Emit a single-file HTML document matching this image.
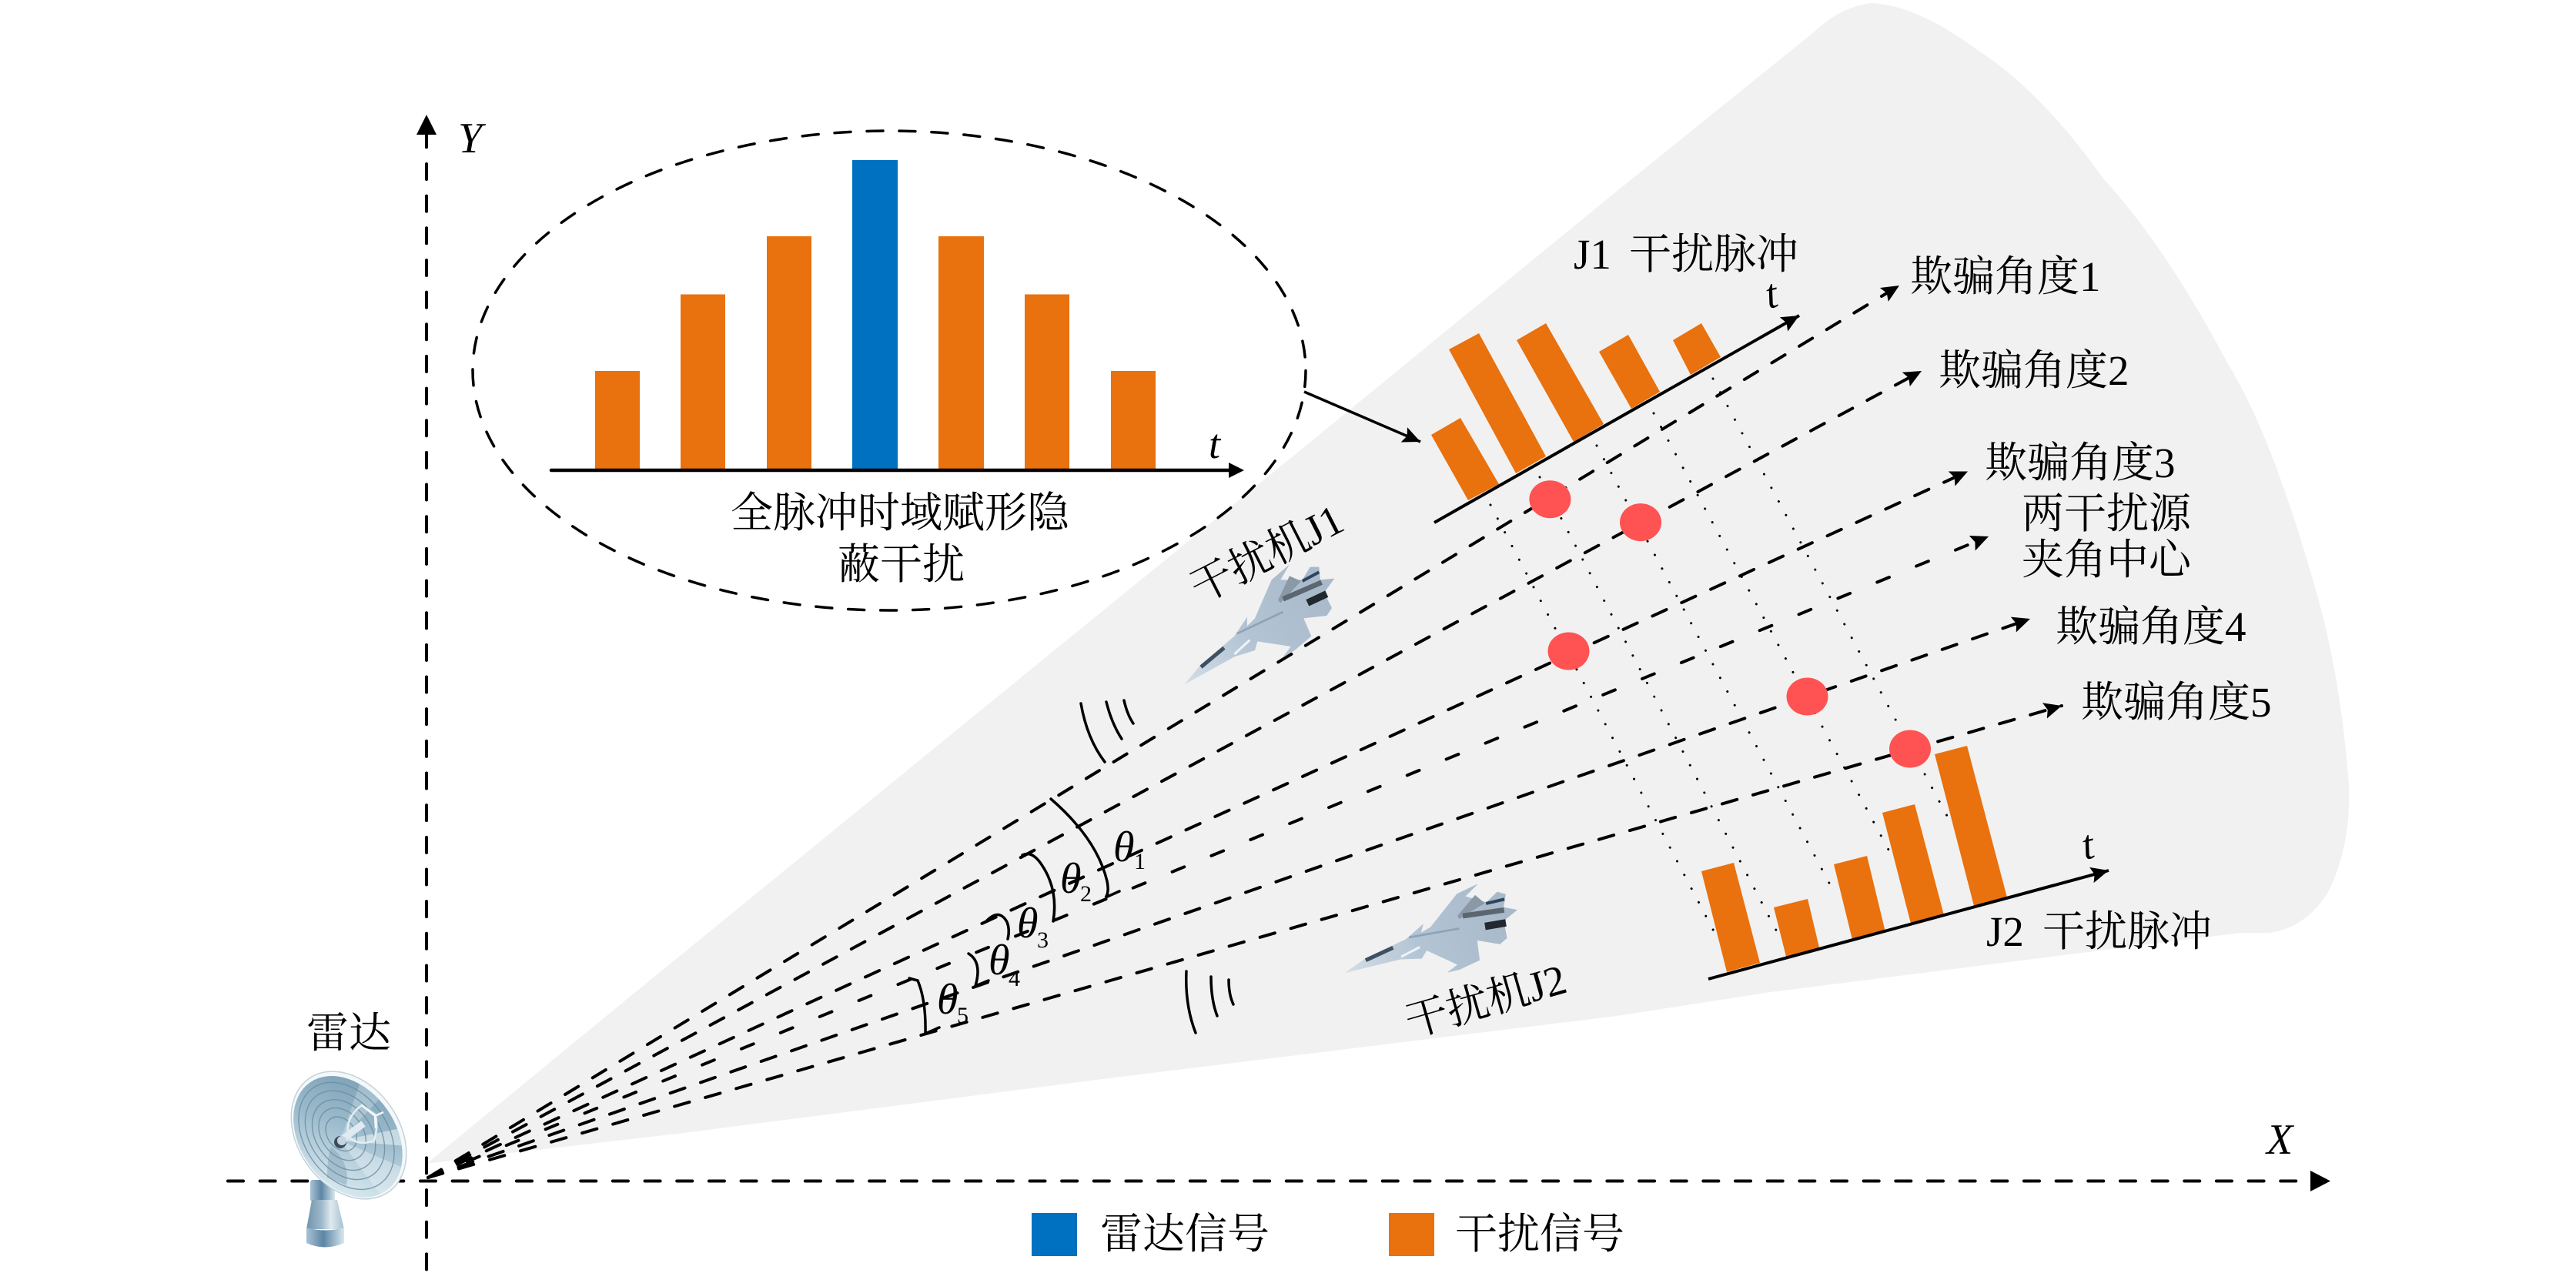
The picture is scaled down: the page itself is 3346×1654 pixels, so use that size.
<!DOCTYPE html>
<html><head><meta charset="utf-8"><style>
html,body{margin:0;padding:0;background:#fff}
svg{display:block}
text{font-family:"Liberation Serif","Noto Serif CJK SC",serif;font-size:55px;fill:#000}
.i{font-style:italic}
</style></head><body>
<svg width="3346" height="1654" viewBox="0 0 3346 1654" xmlns="http://www.w3.org/2000/svg">
<defs>
<marker id="a" markerUnits="userSpaceOnUse" markerWidth="30" markerHeight="26" refX="27" refY="13" orient="auto"><path d="M27,13L4,2.5L8,13L4,23.5Z" fill="#000"/></marker>
<linearGradient id="dish" x1="0" y1="0" x2="1" y2="1"><stop offset="0" stop-color="#7399b0"/><stop offset=".45" stop-color="#9dbccd"/><stop offset=".8" stop-color="#cfe2ea"/><stop offset="1" stop-color="#eaf3f6"/></linearGradient>
<linearGradient id="cyl" x1="0" y1="0" x2="1" y2="0"><stop offset="0" stop-color="#a9c2d3"/><stop offset=".45" stop-color="#5d86a5"/><stop offset=".8" stop-color="#a9c3d3"/><stop offset="1" stop-color="#dbe7ee"/></linearGradient>
<linearGradient id="cone" x1="0" y1="0" x2="1" y2="0"><stop offset="0" stop-color="#6f93ac"/><stop offset=".4" stop-color="#9db8c9"/><stop offset=".65" stop-color="#dfe9ef"/><stop offset="1" stop-color="#a6bfcf"/></linearGradient>
<linearGradient id="jetg" gradientUnits="userSpaceOnUse" x1="55" y1="508" x2="600" y2="100"><stop offset="0" stop-color="#d3dde6"/><stop offset=".45" stop-color="#b3c4d4"/><stop offset="1" stop-color="#a8b9ca"/></linearGradient>
<clipPath id="dc"><ellipse cx="454" cy="1477" rx="86" ry="62" transform="rotate(55 453 1475)"/></clipPath>
<g id="jet">
<path d="M55,508L120,430L250,320L300,245L300,280L330,250L395,100L465,40L430,100L515,100L545,50L580,50L585,100L640,95L600,150L630,210L610,240L520,250L550,320L485,375L440,400L470,360L340,340L330,375L250,400Z" fill="url(#jetg)"/>
<path d="M420,180L465,85L510,105L430,190Z" fill="#8b98a6"/>
<path d="M260,310L440,225" stroke="#8fa3b8" stroke-width="8" fill="none"/>
<path d="M250,390L310,335" stroke="#eef3f7" stroke-width="9" fill="none"/>
<path d="M440,175L590,110" stroke="#5c6670" stroke-width="20" fill="none"/>
<path d="M535,190L610,155" stroke="#22282f" stroke-width="28" fill="none"/>
<path d="M515,105L580,70" stroke="#2e4560" stroke-width="12" fill="none"/>
<path d="M120,440L210,365" stroke="#3f5063" stroke-width="15" fill="none"/>
</g>
</defs>

<!-- sector -->
<path d="M554,1512L812,1300L1400,820L1700,576L2098,250L2300,87L2357,41Q2389,10 2430,4Q2489,6 2570,66Q2651,118 2732,232Q2813,320 2894,473Q2948,560 3002,746Q3040,870 3051,1020Q3054,1100 3023,1161Q2995,1205 2948,1212L2910,1212L2300,1289L2100,1320L1448,1400L880,1473L663,1498Z" fill="#f1f1f1"/>

<!-- axes -->
<line x1="554" y1="171.3" x2="554" y2="1654" stroke="#000" stroke-width="4" stroke-linecap="round" stroke-dasharray="20 21.66"/>
<path d="M554,149L567,175L541,175Z" fill="#000"/>
<line x1="296" y1="1534.5" x2="2998" y2="1534.5" stroke="#000" stroke-width="4" stroke-linecap="round" stroke-dasharray="20 21.66"/>
<path d="M3027,1534.5L3001,1521L3001,1548Z" fill="#000"/>
<text x="595" y="198" class="i" style="font-size:56px">Y</text>
<text x="2944" y="1499" class="i" style="font-size:56px">X</text>

<!-- dotted lines -->
<g stroke="#000" stroke-width="3" stroke-linecap="round" stroke-dasharray="0.1 20" fill="none">
<line x1="1936" y1="656" x2="2234" y2="1225"/>
<line x1="2000" y1="620" x2="2314" y2="1222"/>
<line x1="2074" y1="579" x2="2379" y2="1153"/>
<line x1="2148" y1="537" x2="2460" y2="1117"/>
<line x1="2225" y1="492" x2="2536" y2="1073"/>
</g>

<!-- dashed rays -->
<g stroke="#000" stroke-width="4" fill="none" stroke-linecap="round">
<line x1="556" y1="1530" x2="2467" y2="371" stroke-dasharray="20 21.66" marker-end="url(#a)"/>
<line x1="556" y1="1530" x2="2496" y2="482" stroke-dasharray="20 21.66" marker-end="url(#a)"/>
<line x1="556" y1="1530" x2="2556" y2="612.5" stroke-dasharray="20 21.66" marker-end="url(#a)"/>
<line x1="556" y1="1530" x2="2583" y2="697" stroke-dasharray="17 38" marker-end="url(#a)"/>
<line x1="556" y1="1530" x2="2637" y2="804" stroke-dasharray="20 21.66" marker-end="url(#a)"/>
<line x1="556" y1="1530" x2="2678" y2="917" stroke-dasharray="20 21.66" marker-end="url(#a)"/>
</g>

<!-- ellipse panel -->
<ellipse cx="1155" cy="481.5" rx="541" ry="311.5" fill="none" stroke="#000" stroke-width="3.5" stroke-linecap="round" stroke-dasharray="21 21"/>
<g fill="#e9710e">
<rect x="773" y="482" width="58" height="129"/>
<rect x="884" y="382.5" width="58" height="228.5"/>
<rect x="996" y="307" width="58" height="304"/>
<rect x="1219" y="307" width="59" height="304"/>
<rect x="1331" y="382.5" width="58" height="228.5"/>
<rect x="1443" y="482" width="58" height="129"/>
</g>
<rect x="1107" y="208" width="59" height="403" fill="#0070c0"/>
<line x1="716" y1="611" x2="1600" y2="611" stroke="#000" stroke-width="4.5" stroke-linecap="round"/>
<path d="M1616,611L1596,601L1596,621Z" fill="#000"/>
<text x="1570" y="595" class="i" style="font-size:54px">t</text>
<text x="949" y="685">全脉冲时域赋形隐</text>
<text x="1088" y="752">蔽干扰</text>
<line x1="1694" y1="509" x2="1845" y2="574" stroke="#000" stroke-width="3.5" marker-end="url(#a)"/>

<!-- J1 pulses -->
<g fill="#e9710e">
<path d="M1859,565L1897,543L1947,629L1907,650Z"/>
<path d="M1882,454L1921,433L2008,593L1969,615Z"/>
<path d="M1970,442L2008,420L2083,551L2044,574Z"/>
<path d="M2077,457L2115,435L2156,509L2119,531Z"/>
<path d="M2173,442L2210,420L2235,464L2196,487Z"/>
</g>
<line x1="1863" y1="679" x2="2337" y2="410" stroke="#000" stroke-width="4" marker-end="url(#a)"/>
<text x="2044" y="349">J1</text>
<text x="2116" y="349">干扰脉冲</text>
<text transform="translate(2297,401) rotate(-12)" class="i" style="font-size:54px">t</text>

<!-- J2 pulses -->
<g fill="#e9710e">
<path d="M2210,1132L2252,1121L2286,1251L2243,1263Z"/>
<path d="M2304,1179L2348,1168L2363,1231L2320,1243Z"/>
<path d="M2382,1123L2425,1112L2449,1211L2406,1221Z"/>
<path d="M2445,1056L2487,1045L2525,1189L2482,1200Z"/>
<path d="M2513,980L2555,969L2607,1166L2564,1177Z"/>
</g>
<line x1="2219" y1="1272" x2="2739" y2="1131" stroke="#000" stroke-width="4" marker-end="url(#a)"/>
<text x="2580" y="1229">J2</text>
<text x="2653" y="1229">干扰脉冲</text>
<text transform="translate(2708,1117) rotate(-12)" class="i" style="font-size:54px">t</text>

<!-- red points -->
<g fill="#ff5252">
<ellipse cx="2013.4" cy="648.7" rx="27" ry="24.5"/>
<ellipse cx="2131" cy="678.6" rx="27" ry="24.5"/>
<ellipse cx="2037.5" cy="846" rx="27" ry="24.5"/>
<ellipse cx="2347.5" cy="905" rx="27" ry="24.5"/>
<ellipse cx="2481" cy="973" rx="27" ry="24.5"/>
</g>

<!-- angle labels -->
<text x="2481" y="378">欺骗角度1</text>
<text x="2518" y="500">欺骗角度2</text>
<text x="2578" y="620">欺骗角度3</text>
<text x="2626" y="686">两干扰源</text>
<text x="2626" y="746">夹角中心</text>
<text x="2670" y="833">欺骗角度4</text>
<text x="2703" y="931">欺骗角度5</text>

<!-- theta arcs -->
<g stroke="#000" stroke-width="3.5" fill="none" stroke-linecap="round">
<path d="M1365,1038Q1425,1090 1438,1145Q1441,1160 1436,1166L1454,1158"/>
<path d="M1328,1111Q1340,1105 1352,1122Q1375,1155 1368,1197"/>
<path d="M1282,1196Q1298,1180 1308,1198Q1312,1208 1309,1220"/>
<path d="M1258,1239Q1276,1250 1267,1281L1284,1274"/>
<path d="M1181,1271L1192,1274Q1203,1300 1202,1343L1220,1335"/>
<path d="M1404,914Q1412,960 1435,990"/>
<path d="M1437,912Q1444,940 1457,960"/>
<path d="M1460,910Q1464,928 1472,940"/>
<path d="M1541,1262Q1539,1306 1553,1342"/>
<path d="M1573,1269Q1573,1299 1581,1320"/>
<path d="M1596,1273Q1596,1292 1602,1305"/>
</g>
<text x="1446" y="1119" class="i" style="font-size:56px">θ</text>
<text x="1377" y="1160" class="i" style="font-size:56px">θ</text>
<text x="1321" y="1218" class="i" style="font-size:56px">θ</text>
<text x="1284" y="1266" class="i" style="font-size:56px">θ</text>
<text x="1217" y="1317" class="i" style="font-size:56px">θ</text>
<text x="1473" y="1129" style="font-size:30px">1</text>
<text x="1403" y="1171" style="font-size:30px">2</text>
<text x="1347" y="1231" style="font-size:30px">3</text>
<text x="1310" y="1281" style="font-size:30px">4</text>
<text x="1243" y="1329" style="font-size:30px">5</text>

<!-- jets -->
<use href="#jet" transform="matrix(0.3333,0,0,0.3333,1520,720)"/>
<use href="#jet" transform="matrix(0.3196,0.0913,-0.0897,0.3278,1775,1092.5)"/>
<text transform="translate(1654,736) rotate(-27)" text-anchor="middle">干扰机J1</text>
<text transform="translate(1935,1318) rotate(-16)" text-anchor="middle">干扰机J2</text>

<!-- radar -->
<text x="398" y="1361">雷达</text>
<rect x="403" y="1533" width="32" height="28" rx="3" fill="url(#cyl)"/>
<path d="M405,1559L438,1559L447,1597L398,1597Z" fill="url(#cone)"/>
<path d="M398,1595Q422,1602 447,1595L447,1615Q422,1626 398,1615Z" fill="url(#cyl)"/>
<ellipse cx="453" cy="1475" rx="90" ry="66" transform="rotate(55 453 1475)" fill="#f4f8fa" stroke="#c3d2da" stroke-width="1.5"/>
<ellipse cx="454" cy="1477" rx="86" ry="62" transform="rotate(55 453 1475)" fill="url(#dish)"/>
<g clip-path="url(#dc)">
<path d="M442,1482L470,1400L500,1420Z" fill="#dcebf2" opacity=".35"/>
<path d="M442,1482L540,1462L540,1490Z" fill="#eef5f8" opacity=".55"/>
<path d="M442,1482L500,1560L530,1520Z" fill="#e6f0f5" opacity=".45"/>
<path d="M430,1490Q455,1510 450,1540L425,1530Q425,1505 430,1490Z" fill="#7f9db1" opacity=".45"/>
</g>
<g transform="rotate(55 453 1475)" fill="none" stroke="#6c8ba0" stroke-width="1.4" opacity=".8">
<ellipse cx="452" cy="1478" rx="76" ry="54"/>
<ellipse cx="450" cy="1479" rx="63" ry="45"/>
<ellipse cx="449" cy="1480" rx="50" ry="36"/>
<ellipse cx="447" cy="1481" rx="37" ry="27"/>
<ellipse cx="446" cy="1482" rx="24" ry="18"/>
</g>
<path d="M470,1436Q448,1452 452,1476Q465,1490 486,1482Q492,1460 487,1448Z" fill="none" stroke="#e4eef3" stroke-width="2.5"/>
<path d="M470,1436L487,1450L498,1445M487,1450L488,1466" stroke="#f3f7f9" stroke-width="2.5" fill="none"/>
<line x1="442" y1="1482" x2="472" y2="1460" stroke="#e0ebf1" stroke-width="9"/>
<circle cx="442" cy="1484" r="8" fill="#3c4c58"/>
<circle cx="444" cy="1482" r="6" fill="#c3d5e0"/>

<!-- legend -->
<rect x="1340" y="1576" width="59" height="56" fill="#0070c0"/>
<text x="1429" y="1622">雷达信号</text>
<rect x="1804" y="1576" width="59" height="56" fill="#e9710e"/>
<text x="1890" y="1622">干扰信号</text>
</svg>
</body></html>
